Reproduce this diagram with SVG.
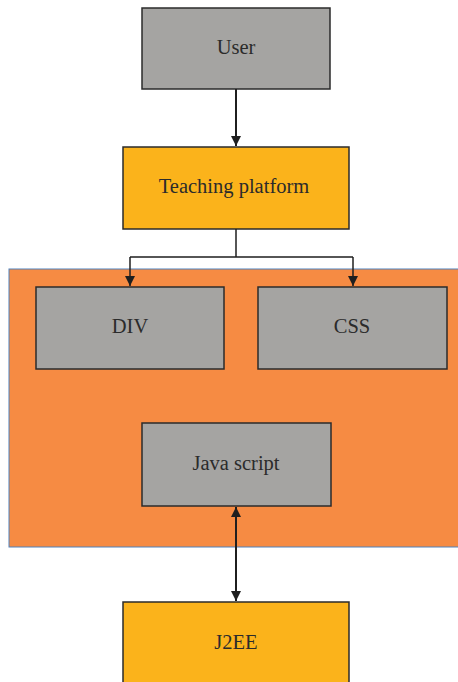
<svg xmlns="http://www.w3.org/2000/svg" width="458" height="682" viewBox="0 0 458 682">
<style>
.gray{fill:#a5a4a2;stroke:#2b2b2b;stroke-width:1.5}
.yel{fill:#fbb31b;stroke:#2b2b2b;stroke-width:1.5}
.cont{fill:#f68b43;stroke:#4f81bd;stroke-width:1}
text{font-family:"Liberation Serif","DejaVu Serif",serif;font-size:20.5px;fill:#2b2b2b;text-anchor:middle}
.ln{stroke:#1f1f1f;fill:none}
</style>
<defs>
<marker id="ah" viewBox="0 0 10 10" refX="10" refY="5" markerWidth="10" markerHeight="10" markerUnits="userSpaceOnUse" orient="auto-start-reverse">
<path d="M0,0 L10,5 L0,10 z" fill="#1f1f1f"/>
</marker>
</defs>
<rect x="0" y="0" width="458" height="682" fill="#ffffff"/>
<g id="container"><rect class="cont" x="9" y="269" width="452" height="278"/></g>
<g id="user"><rect class="gray" x="142" y="8" width="188" height="81"/><text x="236" y="54">User</text></g>
<g id="teaching"><rect class="yel" x="123" y="147" width="226" height="82"/><text x="234" y="193">Teaching platform</text></g>
<g id="div"><rect class="gray" x="36" y="287" width="188" height="82"/><text x="130" y="333">DIV</text></g>
<g id="css"><rect class="gray" x="258" y="287" width="189" height="82"/><text x="352" y="333">CSS</text></g>
<g id="js"><rect class="gray" x="142" y="423" width="189" height="83"/><text x="236" y="470">Java script</text></g>
<g id="j2ee"><rect class="yel" x="123" y="602" width="226" height="90"/><text x="236" y="649">J2EE</text></g>
<g id="connectors">
<path class="ln" stroke-width="2" d="M236,89 V146" marker-end="url(#ah)"/>
<path class="ln" stroke-width="1.5" d="M236,229 V257 M130,257 H353"/>
<path class="ln" stroke-width="1.5" d="M130,257 V286" marker-end="url(#ah)"/>
<path class="ln" stroke-width="1.5" d="M353,257 V286" marker-end="url(#ah)"/>
<path class="ln" stroke-width="2" d="M236,507 V601" marker-start="url(#ah)" marker-end="url(#ah)"/>
</g>
</svg>
